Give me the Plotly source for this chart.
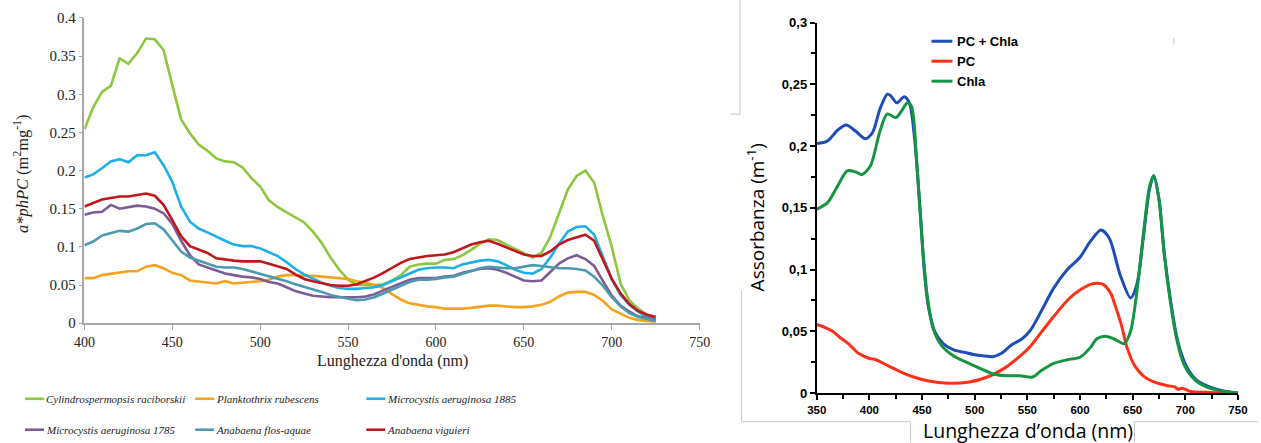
import plotly.graph_objects as go

# Figure size; the rendered page shows the figure inside an 8px body margin,
# scaled back to 1261x443, so reference pixel positions are mapped through SX/SY.
W, H = 1261, 443
SX, SY = 1261 / 1277, 443 / 459
OFF = 8

# ---------------- Left chart data ----------------
wl_left = list(range(400, 730, 5))

cylindrospermopsis = [0.254, 0.283, 0.303, 0.311, 0.347, 0.340, 0.354, 0.373, 0.372, 0.358,
                      0.312, 0.267, 0.249, 0.234, 0.226, 0.216, 0.212, 0.211, 0.204, 0.190,
                      0.179, 0.161, 0.152, 0.145, 0.139, 0.132, 0.120, 0.105, 0.086, 0.070,
                      0.057, 0.050, 0.050, 0.050, 0.051, 0.056, 0.063, 0.074, 0.077, 0.078,
                      0.078, 0.083, 0.084, 0.089, 0.096, 0.104, 0.110, 0.109, 0.103, 0.097,
                      0.092, 0.086, 0.092, 0.113, 0.144, 0.175, 0.193, 0.200, 0.184, 0.140,
                      0.100, 0.052, 0.030, 0.019, 0.011, 0.008]
planktothrix = [0.059, 0.059, 0.063, 0.065, 0.067, 0.068, 0.068, 0.074, 0.076, 0.072,
                0.066, 0.063, 0.056, 0.055, 0.053, 0.052, 0.055, 0.052, 0.053, 0.054,
                0.055, 0.057, 0.061, 0.063, 0.063, 0.062, 0.062, 0.061, 0.060, 0.059,
                0.058, 0.055, 0.053, 0.050, 0.046, 0.038, 0.031, 0.026, 0.024, 0.022,
                0.021, 0.019, 0.019, 0.019, 0.020, 0.022, 0.023, 0.023, 0.022, 0.021,
                0.021, 0.022, 0.024, 0.028, 0.035, 0.040, 0.041, 0.041, 0.037, 0.029,
                0.018, 0.012, 0.007, 0.004, 0.003, 0.002]
microcystis_1885 = [0.191, 0.195, 0.203, 0.212, 0.215, 0.211, 0.220, 0.220, 0.224, 0.207,
                    0.185, 0.153, 0.133, 0.124, 0.119, 0.113, 0.108, 0.103, 0.101, 0.101,
                    0.098, 0.093, 0.088, 0.080, 0.071, 0.064, 0.058, 0.053, 0.049, 0.046,
                    0.045, 0.045, 0.046, 0.047, 0.050, 0.055, 0.061, 0.066, 0.070, 0.072,
                    0.073, 0.073, 0.072, 0.077, 0.080, 0.082, 0.083, 0.081, 0.076, 0.070,
                    0.066, 0.065, 0.071, 0.086, 0.104, 0.120, 0.126, 0.127, 0.116, 0.088,
                    0.058, 0.037, 0.024, 0.015, 0.008, 0.005]
microcystis_1785 = [0.142, 0.145, 0.146, 0.155, 0.150, 0.152, 0.154, 0.153, 0.150, 0.144,
                    0.130, 0.108, 0.089, 0.077, 0.073, 0.068, 0.065, 0.063, 0.061, 0.060,
                    0.058, 0.054, 0.052, 0.047, 0.042, 0.039, 0.036, 0.035, 0.034, 0.034,
                    0.034, 0.034, 0.035, 0.038, 0.043, 0.048, 0.053, 0.057, 0.059, 0.059,
                    0.059, 0.061, 0.062, 0.066, 0.069, 0.071, 0.072, 0.070, 0.066, 0.061,
                    0.056, 0.055, 0.056, 0.067, 0.078, 0.085, 0.089, 0.084, 0.075, 0.055,
                    0.036, 0.023, 0.015, 0.009, 0.006, 0.004]
anabaena_flos = [0.102, 0.107, 0.115, 0.118, 0.121, 0.120, 0.124, 0.130, 0.131, 0.123,
                 0.109, 0.094, 0.086, 0.082, 0.078, 0.074, 0.073, 0.073, 0.071, 0.068,
                 0.065, 0.062, 0.058, 0.055, 0.051, 0.048, 0.045, 0.041, 0.037, 0.034,
                 0.032, 0.030, 0.031, 0.034, 0.039, 0.045, 0.050, 0.054, 0.057, 0.057,
                 0.058, 0.060, 0.061, 0.065, 0.069, 0.072, 0.074, 0.073, 0.072, 0.072,
                 0.074, 0.076, 0.075, 0.073, 0.072, 0.072, 0.071, 0.069, 0.061, 0.049,
                 0.034, 0.022, 0.013, 0.008, 0.005, 0.003]
anabaena_viguieri = [0.153, 0.158, 0.162, 0.164, 0.166, 0.166, 0.168, 0.170, 0.167, 0.155,
                     0.135, 0.114, 0.101, 0.097, 0.092, 0.085, 0.083, 0.082, 0.081, 0.081,
                     0.081, 0.078, 0.075, 0.071, 0.064, 0.058, 0.055, 0.052, 0.050, 0.049,
                     0.049, 0.051, 0.055, 0.060, 0.066, 0.073, 0.079, 0.084, 0.086, 0.088,
                     0.089, 0.090, 0.093, 0.098, 0.103, 0.106, 0.108, 0.104, 0.099, 0.094,
                     0.090, 0.088, 0.088, 0.094, 0.103, 0.109, 0.113, 0.116, 0.108, 0.084,
                     0.058, 0.039, 0.025, 0.016, 0.011, 0.008]

left_names = ["Cylindrospermopsis raciborskii", "Planktothrix rubescens", "Microcystis aeruginosa 1885",
              "Microcystis aeruginosa 1785", "Anabaena flos-aquae", "Anabaena viguieri"]
left_series = [cylindrospermopsis, planktothrix, microcystis_1885,
               microcystis_1785, anabaena_flos, anabaena_viguieri]
left_colors = ["#8DC63F", "#F5A21D", "#1DB0E8", "#7D5C95", "#4B9AAE", "#C0161C"]

# ---------------- Right chart data ----------------
wl_pc_chla = [350, 360, 370, 378, 387, 396, 403, 410, 417, 420, 426, 433, 438, 443, 448, 452, 456, 462,
              470, 480, 490, 500, 510, 517, 525, 535, 545, 553, 563, 575, 588, 600, 610, 620, 628, 638,
              648, 654, 660, 666, 670, 675, 680, 686, 692, 697, 702, 710, 720, 735, 750]
abs_pc_chla = [0.202, 0.204, 0.213, 0.217, 0.212, 0.206, 0.211, 0.230, 0.242, 0.241, 0.235, 0.240, 0.235,
               0.205, 0.150, 0.100, 0.070, 0.050, 0.040, 0.035, 0.033, 0.031, 0.030, 0.0295, 0.032, 0.039,
               0.044, 0.051, 0.066, 0.085, 0.100, 0.110, 0.123, 0.132, 0.125, 0.096, 0.077, 0.088, 0.125,
               0.165, 0.176, 0.157, 0.113, 0.075, 0.045, 0.030, 0.020, 0.011, 0.006, 0.002, 0.000]

wl_pc = [350, 358, 365, 372, 380, 390, 400, 406, 418, 430, 442, 455, 475, 495, 512, 528, 543, 553, 563,
         576, 589, 601, 610, 617, 622, 629, 633, 639, 645, 652, 660, 670, 683, 690, 693, 697, 705, 725, 750]
abs_pc = [0.0555, 0.053, 0.050, 0.045, 0.040, 0.032, 0.028, 0.027, 0.022, 0.017, 0.013, 0.010, 0.008,
          0.009, 0.013, 0.020, 0.030, 0.038, 0.049, 0.063, 0.076, 0.084, 0.088, 0.089, 0.088, 0.081,
          0.072, 0.056, 0.036, 0.022, 0.014, 0.009, 0.006, 0.005, 0.003, 0.004, 0.0013, 0.0005, 0.000]

wl_chla = [350, 360, 370, 379, 387, 393, 401, 410, 417, 425, 431, 436, 440, 445, 450, 455, 461, 469, 480,
           492, 505, 518, 530, 543, 555, 563, 575, 588, 600, 610, 616, 624, 632, 642, 648, 655, 661, 666,
           670, 675, 680, 686, 692, 697, 702, 710, 720, 735, 750]
abs_chla = [0.149, 0.154, 0.168, 0.180, 0.179, 0.177, 0.184, 0.212, 0.226, 0.223, 0.229, 0.235, 0.232,
            0.186, 0.124, 0.078, 0.051, 0.038, 0.030, 0.025, 0.020, 0.0155, 0.014, 0.014, 0.013, 0.018,
            0.024, 0.027, 0.029, 0.037, 0.044, 0.046, 0.044, 0.040, 0.050, 0.089, 0.135, 0.167, 0.176,
            0.157, 0.113, 0.073, 0.043, 0.027, 0.018, 0.010, 0.005, 0.0015, 0.000]

right_names = ["PC + Chla", "PC", "Chla"]
right_x = [wl_pc_chla, wl_pc, wl_chla]
right_y = [abs_pc_chla, abs_pc, abs_chla]
right_colors = ["#1E4DB7", "#FF3019", "#159442"]

right_ytickvals = [0, 0.05, 0.1, 0.15, 0.2, 0.25, 0.3]
right_yticktext = ["0", "0,05", "0,1", "0,15", "0,2", "0,25", "0,3"]
right_xtickvals = [350, 400, 450, 500, 550, 600, 650, 700, 750]
right_xticktext = ["350", "400", "450", "500", "550", "600", "650", "700", "750"]


def px(x):
    return (x / SX - OFF) / W


def py(y):
    return 1 - (y / SY - OFF) / H


fig = go.Figure()

for name, vals, col in zip(left_names, left_series, left_colors):
    fig.add_trace(go.Scatter(x=wl_left, y=vals, mode="lines", name=name,
                             line=dict(color=col, width=2.6), xaxis="x", yaxis="y"))

for name, xs, ys, col in zip(right_names, right_x, right_y, right_colors):
    fig.add_trace(go.Scatter(x=xs, y=ys, mode="lines", name=name,
                             line=dict(color=col, width=3, shape="spline", smoothing=0.8),
                             xaxis="x2", yaxis="y2"))

serif = "Liberation Serif"
sans = "Liberation Sans"
grey = "#a6a6a6"

fig.update_layout(
    width=W, height=H, margin=dict(l=0, r=0, t=0, b=0),
    paper_bgcolor="white", plot_bgcolor="white", showlegend=False,
    xaxis=dict(domain=[px(81.7), px(700)], range=[400, 750], tick0=400, dtick=50,
               showline=True, linecolor=grey, linewidth=1.5, ticks="outside", ticklen=5,
               tickcolor=grey, showgrid=False, zeroline=False, anchor="y",
               tickfont=dict(family=serif, size=14, color="#222")),
    yaxis=dict(domain=[py(323.3), py(17.7)], range=[0, 0.4], tick0=0, dtick=0.05,
               showline=True, linecolor=grey, linewidth=1.5, ticks="outside", ticklen=4,
               tickcolor=grey, showgrid=False, zeroline=False, anchor="x",
               tickfont=dict(family=serif, size=15, color="#222")),
    xaxis2=dict(domain=[px(817.7), px(1241)], range=[350, 750], tickmode="array",
                tickvals=right_xtickvals, ticktext=right_xticktext,
                showline=True, linecolor="black", linewidth=2, ticks="outside", ticklen=5,
                tickcolor="black", tickwidth=1.5, showgrid=False, zeroline=False, anchor="y2",
                minor=dict(tick0=350, dtick=25, ticks="outside", ticklen=4, tickcolor="black",
                           tickwidth=1.5, showgrid=False),
                tickfont=dict(family=sans, size=11.5, color="black", weight="bold")),
    yaxis2=dict(domain=[py(393.3), py(22.3)], range=[0, 0.3], tickmode="array",
                tickvals=right_ytickvals, ticktext=right_yticktext,
                showline=True, linecolor="black", linewidth=2, ticks="outside", ticklen=5,
                tickcolor="black", tickwidth=1.5, showgrid=False, zeroline=False, anchor="x2",
                minor=dict(tick0=0, dtick=0.025, ticks="outside", ticklen=4, tickcolor="black",
                           tickwidth=1.5, showgrid=False),
                tickfont=dict(family=sans, size=13, color="black", weight="bold")),
)

annotations = [
    dict(x=px(18), y=py(174), text="<i>a*phPC</i> (m<sup>2</sup>mg<sup>-1</sup>)", textangle=-90,
         font=dict(family=serif, size=16.5, color="#222")),
    dict(x=px(391), y=py(361), text="Lunghezza d'onda (nm)",
         font=dict(family=serif, size=16, color="#222")),
    dict(x=px(757), y=py(217), text="Assorbanza (m<sup>-1</sup>)", textangle=-90,
         font=dict(family="Open Sans", size=19, color="black")),
    dict(x=px(1030), y=py(431), text="Lunghezza d\u2019onda (nm)",
         font=dict(family="Open Sans", size=19.5, color="black")),
]
for a in annotations:
    a.update(xref="paper", yref="paper", showarrow=False, xanchor="center", yanchor="middle")

shapes = []

# left legend (3 columns x 2 rows)
col_x = [22, 193, 365]
row_y = [399, 430]
for i, (name, col) in enumerate(zip(left_names, left_colors)):
    x0 = col_x[i % 3]
    y0 = row_y[i // 3]
    shapes.append(dict(type="line", xref="paper", yref="paper", x0=px(x0), x1=px(x0 + 19),
                       y0=py(y0), y1=py(y0), line=dict(color=col, width=2.6)))
    annotations.append(dict(x=px(x0 + 19), y=py(y0), xref="paper", yref="paper", showarrow=False,
                            xanchor="left", yanchor="middle", text="<i>" + name + "</i>",
                            font=dict(family=serif, size=11, color="#222")))

# right legend
for i, (name, col) in enumerate(zip(right_names, right_colors)):
    y0 = 41 + 20 * i
    shapes.append(dict(type="line", xref="paper", yref="paper", x0=px(933), x1=px(954),
                       y0=py(y0), y1=py(y0), line=dict(color=col, width=3)))
    annotations.append(dict(x=px(957), y=py(y0), xref="paper", yref="paper", showarrow=False,
                            xanchor="left", yanchor="middle", text="<b>" + name + "</b>",
                            font=dict(family=sans, size=13, color="black")))

# light frame fragments of the original composite
frame = "#c8c8c8"
for (x0, y0, x1, y1) in [(740.5, 0, 740.5, 114), (731, 114, 740.5, 114),
                         (742, 291, 742, 422), (742, 422, 912, 422), (912, 422, 912, 443),
                         (1137, 422, 1137, 443), (1137, 422, 1261, 422),
                         (1176.5, 38, 1176.5, 44)]:
    shapes.append(dict(type="line", xref="paper", yref="paper", x0=px(x0), x1=px(x1),
                       y0=py(y0), y1=py(y1), line=dict(color=frame, width=1)))

fig.update_layout(annotations=annotations, shapes=shapes)
fig.write_html("out.html")
